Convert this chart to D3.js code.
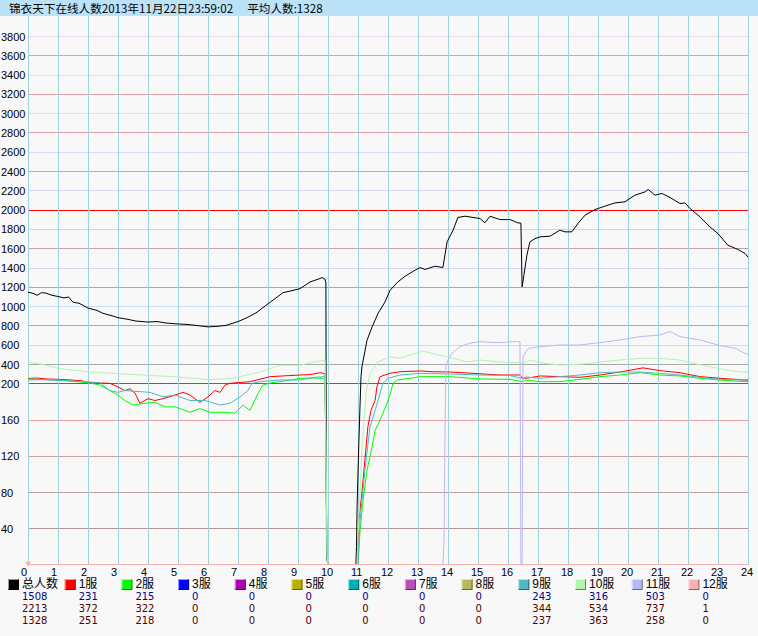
<!DOCTYPE html>
<html lang="zh">
<head>
    <meta charset="UTF-8">
    <title>锦衣天下在线人数</title>
    <script src="https://d3js.org/d3.v7.min.js"></script>
    <style>
        body {
            margin: 0;
            padding: 0;
            background-color: #f8f8f8;
            font-family: "Liberation Sans", Arial, sans-serif;
        }
        svg {
            display: block;
        }
        .title {
            font-family: "Noto Sans CJK SC", sans-serif;
            font-size: 11.6px;
        }
        .tick-label {
            font-size: 11px;
            fill: #000;
        }
        .legend-label {
            font-family: "Liberation Sans", "Noto Sans CJK SC", sans-serif;
            font-size: 12px;
        }
        .num {
            font-family: "DejaVu Sans", sans-serif;
            font-size: 10px;
        }
        .series {
            fill: none;
            stroke-width: 1;
            stroke-linejoin: round;
        }
    </style>
</head>
<body>
    <svg width="758" height="636"></svg>

    <script>
        // ---- data (hour, players) ----
        const titleText = "锦衣天下在线人数2013年11月22日23:59:02\u3000 平均人数:1328";

        const hourTicks = d3.range(0, 25);
        const valueTicks = [40, 80, 120, 160, 200, 400, 600, 800, 1000, 1200, 1400, 1600, 1800,
            2000, 2200, 2400, 2600, 2800, 3000, 3200, 3400, 3600, 3800];

        const total = [
            [0, 1145], [0.2, 1130], [0.3, 1112], [0.45, 1140], [0.6, 1135], [0.8, 1112], [1.0, 1100],
            [1.2, 1085], [1.35, 1095], [1.5, 1040], [1.7, 1030], [2.0, 980], [2.3, 955], [2.5, 925],
            [2.8, 900], [3.0, 880], [3.3, 865], [3.6, 845], [4.0, 835], [4.3, 840], [4.6, 825],
            [5.0, 815], [5.3, 810], [5.6, 800], [6.0, 785], [6.3, 790], [6.6, 800], [7.0, 840],
            [7.3, 880], [7.6, 930], [7.9, 1000], [8.2, 1070], [8.5, 1140], [8.8, 1160], [9.07, 1182],
            [9.4, 1250], [9.73, 1286], [9.8, 1296], [9.9, 1280], [9.93, 1240], [9.95, 9], [10.0, 0],
            [10.93, 0], [10.95, 20], [10.97, 64], [11.0, 101], [11.03, 137], [11.07, 178], [11.1, 268],
            [11.13, 369], [11.3, 646], [11.47, 784], [11.67, 926], [11.9, 1043], [12.07, 1165],
            [12.33, 1251], [12.57, 1310], [12.9, 1372], [13.07, 1400], [13.23, 1380], [13.57, 1414],
            [13.83, 1400], [13.97, 1666], [14.17, 1787], [14.33, 1919], [14.57, 1932], [15.07, 1908],
            [15.23, 1863], [15.4, 1932], [15.73, 1897], [16.07, 1897], [16.33, 1863], [16.43, 1860],
            [16.47, 1200], [16.53, 1320], [16.63, 1528], [16.73, 1666], [16.9, 1700], [17.07, 1718],
            [17.4, 1725], [17.73, 1787], [17.9, 1770], [18.13, 1770], [18.33, 1856], [18.57, 1943],
            [18.9, 2001], [19.23, 2036], [19.57, 2070], [19.9, 2081], [20.23, 2150], [20.57, 2184],
            [20.67, 2210], [20.9, 2150], [21.13, 2168], [21.4, 2126], [21.73, 2064], [21.9, 2070],
            [22.07, 2012], [22.4, 1925], [22.73, 1821], [23.0, 1752], [23.33, 1631], [23.67, 1587],
            [23.9, 1545], [24.0, 1508]
        ];

        const server1 = [
            [0, 249], [0.3, 255], [0.6, 245], [1.0, 241], [1.4, 235], [1.8, 225], [2.0, 206],
            [2.3, 203], [2.73, 200], [3.0, 196], [3.23, 192], [3.4, 194], [3.57, 189], [3.73, 178],
            [4.0, 183], [4.23, 181], [4.5, 183], [4.9, 187], [5.17, 190], [5.4, 187], [5.73, 179],
            [6.0, 185], [6.23, 192], [6.4, 190], [6.57, 198], [6.73, 200], [7.4, 217], [8.07, 269],
            [9.07, 286], [9.4, 290], [9.73, 310], [9.9, 300], [9.97, 5], [10.0, 0], [10.97, 0],
            [11.03, 49], [11.13, 79], [11.23, 115], [11.33, 152], [11.43, 170], [11.57, 181],
            [11.63, 196], [11.67, 200], [11.73, 268], [12.07, 304], [12.4, 320], [13.07, 328],
            [13.5, 320], [14.07, 317], [14.5, 310], [15.0, 300], [15.73, 286], [16.4, 286],
            [16.47, 252], [16.67, 255], [17.07, 276], [17.73, 269], [18.4, 262], [19.07, 286],
            [19.73, 317], [20.5, 360], [21.07, 331], [21.73, 310], [22.4, 269], [23.07, 252],
            [23.9, 234], [24, 231]
        ];

        const server2 = [
            [0, 245], [0.4, 240], [1.07, 234], [2.07, 203], [2.4, 198], [2.73, 192], [3.0, 187],
            [3.23, 181], [3.5, 176], [3.9, 178], [4.23, 179], [4.57, 174], [4.9, 174], [5.4, 168],
            [5.73, 172], [6.07, 168], [6.57, 168], [6.9, 167], [7.17, 176], [7.4, 170], [7.67, 189],
            [7.83, 198], [8.07, 203], [8.4, 217], [9.07, 251], [9.5, 255], [9.9, 250], [9.97, 5],
            [10.0, 0], [11.0, 0], [11.07, 38], [11.17, 71], [11.3, 104], [11.47, 130], [11.57, 148],
            [11.73, 159], [11.83, 167], [11.97, 178], [12.07, 188], [12.17, 200], [12.3, 234],
            [12.73, 252], [13.07, 269], [14.07, 269], [15.07, 245], [16.07, 241], [16.47, 217],
            [16.6, 234], [17.07, 217], [17.73, 217], [18.4, 241], [19.07, 269], [19.73, 286],
            [20.4, 310], [21.07, 286], [21.73, 276], [22.4, 252], [23.07, 234], [23.9, 217], [24, 215]
        ];

        const server9 = [
            [0, 234], [0.5, 238], [1.07, 228], [2.0, 215], [2.4, 205], [2.73, 192], [3.0, 190],
            [3.23, 192], [4.07, 190], [4.5, 185], [4.9, 187], [5.4, 181], [5.9, 181], [6.4, 176],
            [6.73, 178], [7.07, 185], [7.33, 192], [7.47, 200], [7.73, 217], [8.4, 234], [9.07, 234],
            [9.5, 260], [9.9, 270], [9.97, 5], [10.0, 0], [11.0, 0], [11.07, 49], [11.23, 104],
            [11.4, 152], [11.57, 170], [11.73, 188], [11.83, 200], [12.0, 252], [12.4, 286],
            [13.07, 303], [14.07, 297], [15.07, 286], [16.07, 280], [16.47, 252], [16.6, 265],
            [17.07, 252], [17.73, 269], [18.4, 286], [19.07, 310], [19.73, 317], [20.4, 317],
            [21.07, 303], [21.73, 286], [22.4, 262], [23.07, 241], [23.9, 234], [24, 243]
        ];

        const server10 = [
            [0, 420], [0.5, 395], [1.07, 352], [2.07, 317], [3.0, 300], [4.0, 283], [5.0, 265],
            [6.0, 238], [6.67, 248], [7.0, 265], [7.73, 317], [8.4, 387], [9.07, 387], [9.5, 420],
            [9.9, 440], [9.97, 10], [10.0, 0], [10.97, 0], [11.0, 30], [11.13, 126], [11.27, 190],
            [11.4, 304], [11.67, 421], [12.07, 476], [12.4, 459], [12.73, 494], [13.17, 534],
            [13.6, 500], [14.17, 459], [14.63, 421], [15.07, 441], [15.73, 421], [16.4, 414],
            [16.47, 400], [16.73, 441], [17.23, 407], [17.73, 390], [18.4, 397], [19.07, 421],
            [19.73, 441], [20.4, 459], [21.07, 459], [21.73, 441], [22.07, 414], [22.73, 372],
            [23.4, 331], [23.9, 314], [24, 316]
        ];

        const server11 = [
            [0, 0], [13.83, 0], [13.87, 27], [13.9, 148], [13.93, 372], [14.0, 442], [14.13, 511],
            [14.4, 580], [14.73, 615], [15.07, 632], [15.4, 625], [15.73, 621], [16.07, 630],
            [16.33, 632], [16.4, 630], [16.43, 0], [16.47, 0], [16.5, 476], [16.63, 545],
            [16.73, 563], [17.07, 580], [17.73, 597], [18.4, 597], [19.07, 622], [19.73, 649],
            [20.4, 684], [21.07, 701], [21.4, 737], [21.73, 684], [22.4, 649], [23.07, 590],
            [23.57, 563], [23.9, 511], [24, 503]
        ];

        const idle = [[0, 0], [24, 0]];
        const server12 = [[0, 1], [0.03, 0], [24, 0]];

        const names = ["总人数", "1服", "2服", "3服", "4服", "5服", "6服", "7服", "8服", "9服", "10服", "11服", "12服"];
        const colors = ["#000000", "#ff0000", "#00ff00", "#0000ff", "#b000b0", "#b8b000", "#00b0b8",
            "#b850b8", "#b8b858", "#50b8c0", "#b0f4b0", "#b8b8f8", "#f8b0b0"];
        const seriesData = [total, server1, server2, idle, idle, idle, idle, idle, idle,
            server9, server10, server11, server12];

        const current = [1508, 231, 215, 0, 0, 0, 0, 0, 0, 243, 316, 503, 0];
        const maximum = [2213, 372, 322, 0, 0, 0, 0, 0, 0, 344, 534, 737, 1];
        const average = [1328, 251, 218, 0, 0, 0, 0, 0, 0, 237, 363, 258, 0];

        // gridline colours by value
        const gridColor = {
            40: "#b89494", 80: "#c09c9c", 120: "#d0a0a0", 160: "#e8a0a0", 200: "#10a010",
            400: "#a8a8a8", 600: "#cddcf0", 800: "#a8a8b0", 1000: "#cfdcf5", 1200: "#aaaaaa",
            1400: "#d0d8f8", 1600: "#c0a8a8", 1800: "#d0d0f8", 2000: "#ff0000", 2200: "#d8d8f8",
            2400: "#c8a8b0", 2600: "#e4d8f8", 2800: "#e0a0a8", 3000: "#ecd8f0", 3200: "#e0a0a8",
            3400: "#f0d8f8", 3600: "#e0a0a8", 3800: "#f0d8f8"
        };

        const svg = d3.select("svg");
        const width = +svg.attr("width");

        // split scale: 0-200 is stretched, 200-3800 compressed
        const x = d3.scaleLinear().domain([0, 24]).range([28, 748]);
        const y = d3.scaleLinear().domain([0, 200, 3800]).range([564.5, 383.3, 36]);

        // title bar
        svg.append("rect")
            .attr("x", 0).attr("y", 0)
            .attr("width", width).attr("height", 16)
            .attr("fill", "#bce2f8");
        svg.append("text")
            .attr("class", "title")
            .attr("x", 9).attr("y", 12.5)
            .text(titleText);

        // horizontal grid
        svg.append("g")
            .selectAll("line")
            .data(valueTicks)
            .enter().append("line")
            .attr("x1", x(0)).attr("x2", x(24))
            .attr("y1", d => Math.round(y(d)) + 0.5)
            .attr("y2", d => Math.round(y(d)) + 0.5)
            .attr("stroke", d => gridColor[d])
            .attr("stroke-width", 1);

        // vertical grid
        svg.append("g")
            .selectAll("line")
            .data(hourTicks)
            .enter().append("line")
            .attr("x1", d => x(d) + 0.5).attr("x2", d => x(d) + 0.5)
            .attr("y1", 16).attr("y2", 565)
            .attr("stroke", "#9fd3db")
            .attr("stroke-width", 1);

        // y labels
        svg.append("g")
            .selectAll("text")
            .data(valueTicks)
            .enter().append("text")
            .attr("class", "tick-label")
            .attr("x", 1)
            .attr("y", d => y(d) + 4.5)
            .text(d => d);

        // x labels
        svg.append("g")
            .selectAll("text")
            .data(hourTicks)
            .enter().append("text")
            .attr("class", "tick-label")
            .attr("x", d => x(d) - 7)
            .attr("y", 576)
            .text(d => d);

        // series
        const line = d3.line()
            .x(d => x(d[0]))
            .y(d => y(d[1]));

        svg.append("g")
            .selectAll("path")
            .data(seriesData)
            .enter().append("path")
            .attr("class", "series")
            .attr("d", line)
            .attr("stroke", (d, i) => colors[i])
            .attr("stroke-width", (d, i) => i === 0 ? 1.5 : 1);

        // little marker at the start of the base line
        svg.append("path")
            .attr("d", d3.symbol().type(d3.symbolTriangle).size(14))
            .attr("transform", `translate(${x(0)},${y(0) - 1}) rotate(180)`)
            .attr("fill", "#f8b0b0");

        // legend
        const legend = svg.append("g");
        const item = legend.selectAll("g")
            .data(names)
            .enter().append("g")
            .attr("transform", (d, i) => `translate(${8 + i * 56.7},579)`);

        item.append("rect")
            .attr("width", 11).attr("height", 11)
            .attr("fill", (d, i) => colors[i]);
        item.append("path")
            .attr("d", "M0.5,10.5 V0.5 H10.5")
            .attr("fill", "none")
            .attr("stroke", "#ffffff")
            .attr("stroke-opacity", 0.6);
        item.append("path")
            .attr("d", "M0.5,10.5 H10.5 V0.5")
            .attr("fill", "none")
            .attr("stroke", "#000000")
            .attr("stroke-opacity", 0.45);
        item.append("text")
            .attr("class", "legend-label")
            .attr("x", 14).attr("y", 9)
            .text(d => d);

        const rows = [
            {vals: current, color: "#000080", dy: 21},
            {vals: maximum, color: "#500000", dy: 33},
            {vals: average, color: "#500000", dy: 45}
        ];
        rows.forEach(r => {
            item.append("text")
                .attr("class", "num")
                .attr("x", 14)
                .attr("y", r.dy)
                .attr("fill", r.color)
                .text((d, i) => r.vals[i]);
        });
    </script>
</body>
</html>
